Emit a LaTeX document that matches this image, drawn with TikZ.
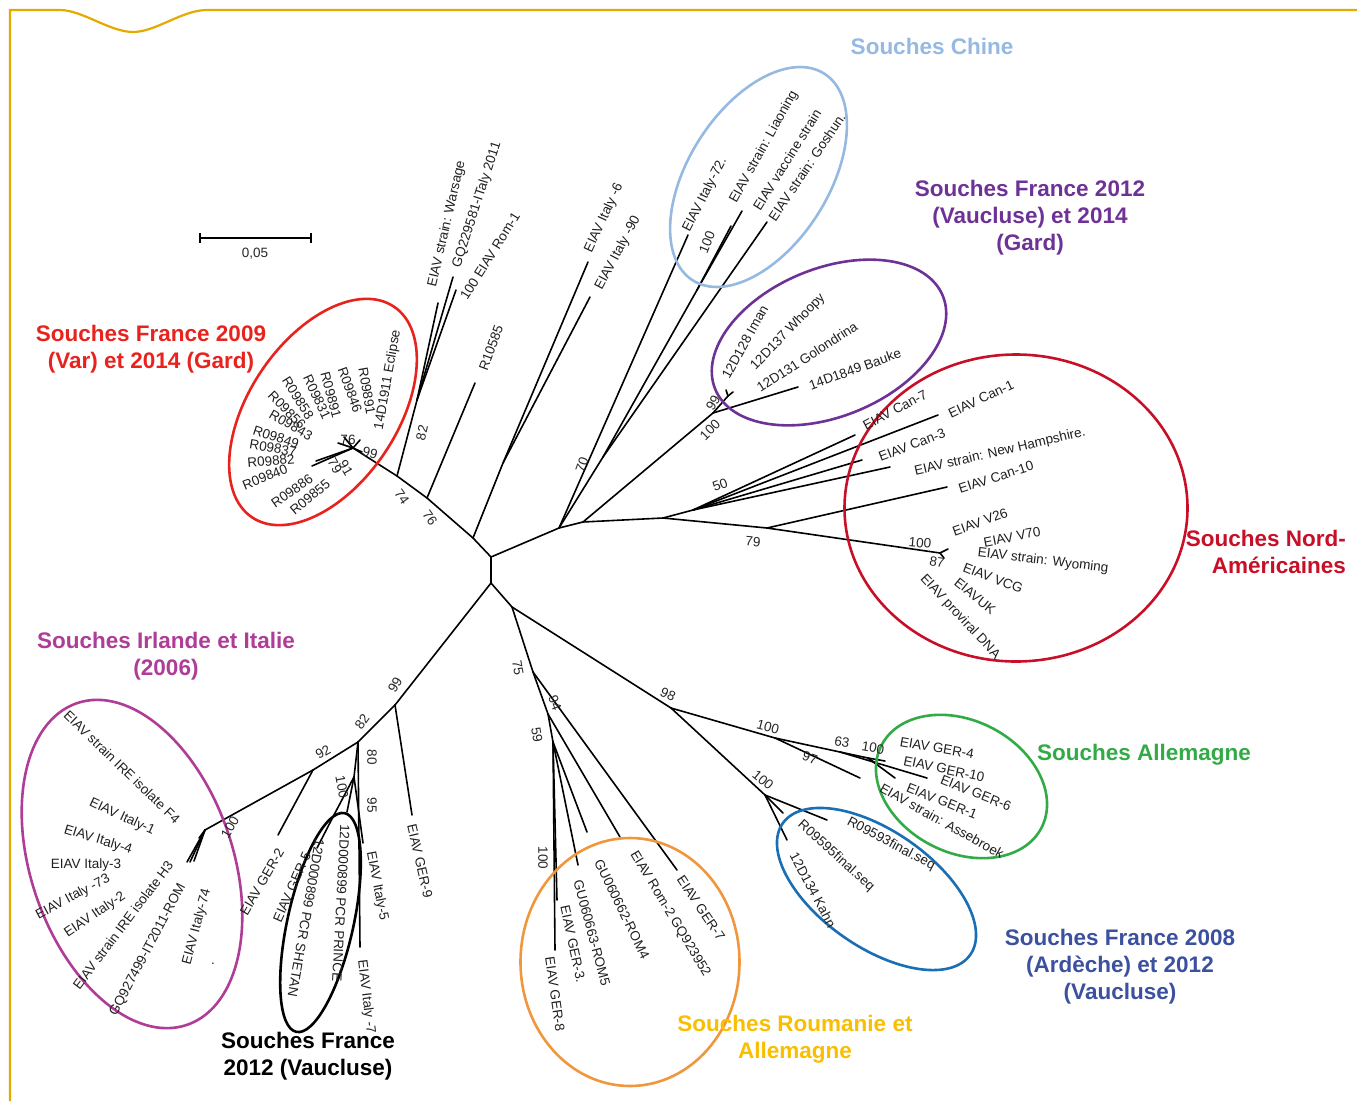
\documentclass[tikz,border=0pt]{standalone}
\usepackage{fontspec}
\setmainfont{Liberation Sans}
\definecolor{framegold}{RGB}{227,170,0}
\definecolor{varred}{RGB}{232,35,30}
\definecolor{chinablue}{RGB}{150,185,225}
\definecolor{vpurple}{RGB}{110,50,150}
\definecolor{nared}{RGB}{200,15,40}
\definecolor{iremag}{RGB}{175,60,150}
\definecolor{romorange}{RGB}{240,150,60}
\definecolor{romtext}{RGB}{250,190,0}
\definecolor{gergreen}{RGB}{50,170,70}
\definecolor{ardblue}{RGB}{25,110,180}
\definecolor{ardtext}{RGB}{60,80,160}
\tikzset{
  branch/.style={line width=1.6pt, black, line cap=round},
  taxon/.style={font=\fontsize{13.5}{15}\selectfont, inner sep=0pt, text=black!88},
  boot/.style={font=\fontsize{13.5}{15}\selectfont, inner sep=0pt, text=black!85},
  group/.style={font=\bfseries\fontsize{22.5}{27}\selectfont, align=center, inner sep=0pt},
  ring/.style={line width=2.6pt}
}
\newcommand\taxon[4]{\node[taxon,rotate=#3] (#1) at (#2) {#4};}
\newcommand\bootval[4]{\node[boot,rotate=#3] (#1) at (#2) {#4};}
\begin{document}
\begin{tikzpicture}[x=1pt,y=-1pt]
\useasboundingbox (0,0) rectangle (1357,1101);
% frame
\draw[framegold, line width=2.2pt] (10,1101) -- (10,10) -- (60,10)
  .. controls (82,10) and (110,32) .. (133,32)
  .. controls (156,32) and (182,10) .. (207,10) -- (1357,10);

% scale bar
\coordinate (sb1) at (200,238);
\coordinate (sb2) at (311,238);
\draw[line width=1.3pt] (sb1) -- (sb2);
\draw[line width=1.3pt] ([yshift=5pt]sb1) -- ([yshift=-5pt]sb1);
\draw[line width=1.3pt] ([yshift=5pt]sb2) -- ([yshift=-5pt]sb2);
\node[boot] (sblabel) at (255,254) {0,05};

% ---------- tree nodes ----------
\coordinate (r1) at (491,557);
\coordinate (r2) at (491,583);
\coordinate (u1) at (473,538);
\coordinate (u2) at (427,498);
\coordinate (u3) at (397,476);
\coordinate (u4) at (417,400);
\coordinate (u6) at (503,463);
\coordinate (u7) at (353,448);
\coordinate (eWar) at (438,303);
\coordinate (eGQ) at (453,277);
\coordinate (eRom) at (456,290);
\coordinate (eR105) at (475,383);
\coordinate (eI6) at (588,262);
\coordinate (eI90) at (590,297);
\coordinate (eRa) at (338,443);
\coordinate (eRb) at (312,466);
\coordinate (eRc) at (316,461);
\coordinate (eRd) at (344,437);
\coordinate (eRe) at (360,440);
\coordinate (eRf) at (362,452);

\coordinate (c0) at (559,528);
\coordinate (n0) at (583,522);
\coordinate (c1) at (603,457);
\coordinate (c2) at (697,290);
\coordinate (eI72) at (688,235);
\coordinate (eLia) at (742,211);
\coordinate (eVac) at (731,226);
\coordinate (eGos) at (767,222);
\coordinate (p0) at (713,413);
\coordinate (p1) at (728,396);
\coordinate (eBau) at (798,387);
\coordinate (ePa) at (726,390);
\coordinate (ePb) at (733,392);
\coordinate (a0) at (663,518);
\coordinate (a1) at (693,510);
\coordinate (a3) at (767,528);
\coordinate (v0) at (940,553);
\coordinate (eC7) at (855,435);
\coordinate (eC1) at (938,415);
\coordinate (eC3) at (862,460);
\coordinate (eNH) at (890,467);
\coordinate (eC10) at (947,487);
\coordinate (eVa) at (948,549);
\coordinate (eVb) at (944,558);

\coordinate (b0) at (512,607);
\coordinate (b1) at (533,672);
\coordinate (b2) at (548,714);
\coordinate (b3) at (553,742);
\coordinate (b5) at (671,708);
\coordinate (eG7) at (677,870);
\coordinate (eRom2) at (620,837);
\coordinate (eR4) at (587,832);
\coordinate (eR5) at (578,865);
\coordinate (eG8) at (555,950);
\coordinate (eG3) at (557,900);
\coordinate (g0) at (775,738);
\coordinate (g1) at (840,752);
\coordinate (g2) at (868,758);
\coordinate (eAss) at (860,778);
\coordinate (eG6) at (927,778);
\coordinate (eG4) at (885,761);
\coordinate (eG1) at (895,778);
\coordinate (eG10) at (878,765);
\coordinate (f0) at (765,795);
\coordinate (eR93) at (827,820);
\coordinate (eR95) at (783,813);
\coordinate (eKahn) at (787,840);

\coordinate (l0) at (395,705);
\coordinate (l1) at (358,742);
\coordinate (l2) at (354,777);
\coordinate (l3) at (335,813);
\coordinate (l4) at (313,770);
\coordinate (i0) at (205,830);
\coordinate (eG9) at (412,815);
\coordinate (eI7) at (360,947);
\coordinate (eI5) at (363,843);
\coordinate (ePR) at (347,812);
\coordinate (eG5) at (317,848);
\coordinate (eG2) at (278,835);
\coordinate (eIa) at (187,862);
\coordinate (eIb) at (190,862);
\coordinate (eIc) at (194,861);
\coordinate (eId) at (199,838);

% ---------- branches ----------
\draw[branch] (r1) -- (r2);
\draw[branch] (r1) -- (u1) -- (u2) -- (u3) -- (u7);
\draw[branch] (u1) -- (u6);
\draw[branch] (u6) -- (eI6);
\draw[branch] (u6) -- (eI90);
\draw[branch] (u2) -- (eR105);
\draw[branch] (u3) -- (u4);
\draw[branch] (u4) -- (eWar);
\draw[branch] (u4) -- (eGQ);
\draw[branch] (u4) -- (eRom);
\foreach \t in {eRa,eRb,eRc,eRd,eRe,eRf} \draw[branch] (u7) -- (\t);

\draw[branch] (r1) -- (c0) -- (n0);
\draw[branch] (c0) -- (eI72);
\draw[branch] (c0) -- (c1);
\draw[branch] (c1) -- (eGos);
\draw[branch] (c1) -- (c2);
\draw[branch] (c2) -- (eLia);
\draw[branch] (c2) -- (eVac);
\draw[branch] (n0) -- (p0);
\draw[branch] (p0) -- (eBau);
\draw[branch] (p0) -- (p1);
\draw[branch] (p1) -- (ePa);
\draw[branch] (p1) -- (ePb);
\draw[branch] (n0) -- (a0) -- (a1);
\foreach \t in {eC7,eC1,eC3,eNH} \draw[branch] (a1) -- (\t);
\draw[branch] (a0) -- (a3);
\draw[branch] (a3) -- (eC10);
\draw[branch] (a3) -- (v0);
\draw[branch] (v0) -- (eVa);
\draw[branch] (v0) -- (eVb);

\draw[branch] (r2) -- (b0);
\draw[branch] (b0) -- (b1);
\draw[branch] (b1) -- (eG7);
\draw[branch] (b1) -- (b2);
\draw[branch] (b2) -- (eRom2);
\draw[branch] (b2) -- (b3);
\foreach \t in {eR4,eR5,eG8,eG3} \draw[branch] (b3) -- (\t);
\draw[branch] (b0) -- (b5);
\draw[branch] (b5) -- (g0);
\draw[branch] (g0) -- (eAss);
\draw[branch] (g0) -- (g1);
\draw[branch] (g1) -- (eG6);
\draw[branch] (g1) -- (g2);
\foreach \t in {eG4,eG1,eG10} \draw[branch] (g2) -- (\t);
\draw[branch] (b5) -- (f0);
\foreach \t in {eR93,eR95,eKahn} \draw[branch] (f0) -- (\t);

\draw[branch] (r2) -- (l0);
\draw[branch] (l0) -- (eG9);
\draw[branch] (l0) -- (l1);
\draw[branch] (l1) -- (eI7);
\draw[branch] (l1) -- (l2);
\draw[branch] (l2) -- (eI5);
\draw[branch] (l2) -- (ePR);
\draw[branch] (l2) -- (l3);
\draw[branch] (l3) -- (eG5);
\draw[branch] (l1) -- (l4);
\draw[branch] (l4) -- (eG2);
\draw[branch] (l4) -- (i0);
\foreach \t in {eIa,eIb,eIc,eId} \draw[branch] (i0) -- (\t);

% ---------- cluster rings ----------
\draw[ring, varred, rotate around={56:(323,412)}] (323,412) ellipse [x radius=127pt, y radius=74pt];
\draw[ring, chinablue, rotate around={57.5:(758.5,177)}] (758.5,177) ellipse [x radius=122.5pt, y radius=70pt];
\draw[ring, vpurple, rotate around={22.3:(829,342.5)}] (829,342.5) ellipse [x radius=123pt, y radius=74pt];
\draw[ring, nared] (1016,508) ellipse [x radius=171.5pt, y radius=153.5pt];
\draw[ring, iremag, rotate around={108.9:(132,864)}] (132,864) ellipse [x radius=170pt, y radius=101pt];
\draw[ring, black, rotate around={77.5:(320.5,922.5)}] (320.5,922.5) ellipse [x radius=112pt, y radius=33pt];
\draw[ring, romorange] (630,962) ellipse [x radius=109.5pt, y radius=124pt];
\draw[ring, gergreen, rotate around={-27.2:(961.5,786.5)}] (961.5,786.5) ellipse [x radius=90pt, y radius=66pt];
\draw[ring, ardblue, rotate around={-35:(876.5,889)}] (876.5,889) ellipse [x radius=114.5pt, y radius=58pt];

% ---------- taxa ----------
\taxon{tx1}{447,224}{77}{EIAV strain: Warsage}
\taxon{tx2}{477,205}{72}{GQ229581-ITaly 2011}
\taxon{tx3}{490,256}{58}{100 EIAV Rom-1}
\taxon{tx4}{491,348}{70}{R10585}
\taxon{tx5}{604,218}{65}{EIAV Italy -6}
\taxon{tx6}{618,253}{62}{EIAV Italy -90}
\taxon{tx7}{705,195}{63}{EIAV Italy-72.}
\taxon{tx8}{764,147}{61}{EIAV strain: Liaoning}
\taxon{tx9}{787,160}{58}{EIAV vaccine strain}
\taxon{tx10}{807,167}{56}{EIAV strain: Goshun.}
\taxon{tx11}{745,342}{61}{12D128 Iman}
\taxon{tx12}{788,332}{46}{12D137 Whoopy}
\taxon{tx13}{807,357}{33}{12D131 Golondrina}
\taxon{tx14}{855,369}{20}{14D1849 Bauke}
\taxon{tx15}{895,410}{28}{EIAV Can-7}
\taxon{tx16}{981,399}{25}{EIAV Can-1}
\taxon{tx17}{912,445}{21}{EIAV Can-3}
\taxon{tx18}{1000,452}{13}{EIAV strain: New Hampshire.}
\taxon{tx19}{996,477}{18}{EIAV Can-10}
\taxon{tx20}{980,522}{20}{EIAV V26}
\taxon{tx21}{1012,537}{11}{EIAV V70}
\taxon{tx22}{1043,561}{-7}{EIAV strain: Wyoming}
\taxon{tx23}{993,578}{-21}{EIAV VCG}
\taxon{tx24}{975,596}{-39}{EIAVUK}
\taxon{tx25}{960,617}{-47}{EIAV proviral DNA}
\taxon{tx26}{937,748}{-10}{EIAV GER-4}
\taxon{tx27}{944,769}{-12}{EIAV GER-10}
\taxon{tx28}{976,793}{-22}{EIAV GER-6}
\taxon{tx29}{942,801}{-22}{EIAV GER-1}
\taxon{tx30}{942,821}{-29}{EIAV strain: Assebroek}
\taxon{tx31}{891,844}{-28}{R09593final.seq}
\taxon{tx32}{836,856}{-42}{R09595final.seq}
\taxon{tx33}{813,890}{-62}{12D134 Kahn}
\taxon{tx34}{701,908}{-56}{EIAV GER-7}
\taxon{tx35}{670,914}{-59}{EIAV Rom-2 GQ923952}
\taxon{tx36}{622,909}{-64}{GU060662-ROM4}
\taxon{tx37}{592,933}{-75}{GU060663-ROM5}
\taxon{tx38}{573,944}{-78}{EIAV GER-3.}
\taxon{tx39}{555,994}{-82}{EIAV GER-8}
\taxon{tx40}{420,861}{-77}{EIAV GER-9}
\taxon{tx41}{377,886}{-79}{EIAV Italy-5}
\taxon{tx42}{366,997}{-83}{EIAV Italy -7}
\taxon{tx43}{341,903}{-93}{12D000899 PCR PRINCE}
\taxon{tx44}{306,918}{-100}{12D000899 PCR SHETAN}
\taxon{tx45}{292,887}{66}{EIAV GER-5}
\taxon{tx46}{262,882}{60}{EIAV GER-2}
\taxon{tx47}{122,767}{-44}{EIAV strain IRE isolate F4}
\taxon{tx48}{122,817}{-25}{EIAV Italy-1}
\taxon{tx49}{98,840}{-17}{EIAV Italy-4}
\taxon{tx50}{86,865}{0}{EIAV Italy-3}
\taxon{tx51}{73,897}{28}{EIAV Italy -73}
\taxon{tx52}{95,915}{34}{EIAV Italy-2}
\taxon{tx53}{123,925}{53}{EIAV strain IRE isolate H3}
\taxon{tx54}{148,950}{62}{GQ927499-IT2011-ROM}
\taxon{tx55}{197,927}{75}{EIAV Italy-74}
\taxon{tx56}{213,964}{0}{.}
\taxon{tx57}{388,380}{80}{14D1911 Eclipse}
\taxon{tx58}{367,391}{-80}{R09891}
\taxon{tx59}{350,390}{-70}{R09846}
\taxon{tx60}{331,395}{-75}{R09891}
\taxon{tx61}{317,397}{-65}{R09831}
\taxon{tx62}{298,398}{-58}{R09858}
\taxon{tx63}{287,410}{-46}{R09856}
\taxon{tx64}{291,425}{-30}{R09843}
\taxon{tx65}{276,437}{-18}{R09849}
\taxon{tx66}{273,448}{-10}{R09837}
\taxon{tx67}{271,461}{5}{R09882}
\taxon{tx68}{265,477}{22}{R09840}
\taxon{tx69}{292,491}{35}{R09886}
\taxon{tx70}{310,497}{40}{R09855}

% ---------- bootstrap values ----------
\bootval{bv1}{402,497}{-55}{74}
\bootval{bv2}{430,518}{-55}{76}
\bootval{bv3}{422,433}{78}{82}
\bootval{bv4}{348,440}{0}{76}
\bootval{bv5}{370,453}{-15}{99}
\bootval{bv6}{335,466}{-60}{79}
\bootval{bv7}{346,468}{-60}{91}
\bootval{bv8}{582,465}{70}{70}
\bootval{bv9}{707,242}{68}{100}
\bootval{bv10}{713,403}{60}{99}
\bootval{bv11}{710,430}{45}{100}
\bootval{bv12}{720,485}{20}{50}
\bootval{bv13}{753,542}{-5}{79}
\bootval{bv14}{920,543}{-5}{100}
\bootval{bv15}{937,562}{-10}{87}
\bootval{bv16}{518,668}{-80}{75}
\bootval{bv17}{555,703}{-70}{94}
\bootval{bv18}{537,735}{-80}{59}
\bootval{bv19}{543,858}{-90}{100}
\bootval{bv20}{668,694}{-25}{98}
\bootval{bv21}{768,727}{-15}{100}
\bootval{bv22}{842,742}{-10}{63}
\bootval{bv23}{873,748}{-10}{100}
\bootval{bv24}{810,758}{-20}{97}
\bootval{bv25}{763,780}{-40}{100}
\bootval{bv26}{395,685}{60}{99}
\bootval{bv27}{362,722}{55}{82}
\bootval{bv28}{323,752}{30}{92}
\bootval{bv29}{342,787}{-80}{100}
\bootval{bv30}{372,757}{-90}{80}
\bootval{bv31}{372,805}{-90}{95}
\bootval{bv32}{230,827}{60}{100}

% ---------- group titles ----------
\node[group, text=chinablue] (gChine) at (932,46) {Souches Chine};
\node[group, text=vpurple] (gVauc) at (1030,218) {Souches France 2012\\(Vaucluse) et 2014\\(Gard)};
\node[group, text=varred] (gVar) at (151,349) {Souches France 2009\\(Var) et 2014 (Gard)};
\node[group, text=nared, align=right, anchor=east] (gNA) at (1346,552) {Souches Nord-\\Américaines};
\node[group, text=iremag] (gIre) at (166,656) {Souches Irlande et Italie\\(2006)};
\node[group, text=gergreen] (gGer) at (1144,755) {Souches Allemagne};
\node[group, text=black] (gF12) at (308,1056) {Souches France\\2012 (Vaucluse)};
\node[group, text=romtext] (gRom) at (795,1039) {Souches Roumanie et\\Allemagne};
\node[group, text=ardtext] (gArd) at (1120,967) {Souches France 2008\\(Ardèche) et 2012\\(Vaucluse)};
\end{tikzpicture}
\end{document}
